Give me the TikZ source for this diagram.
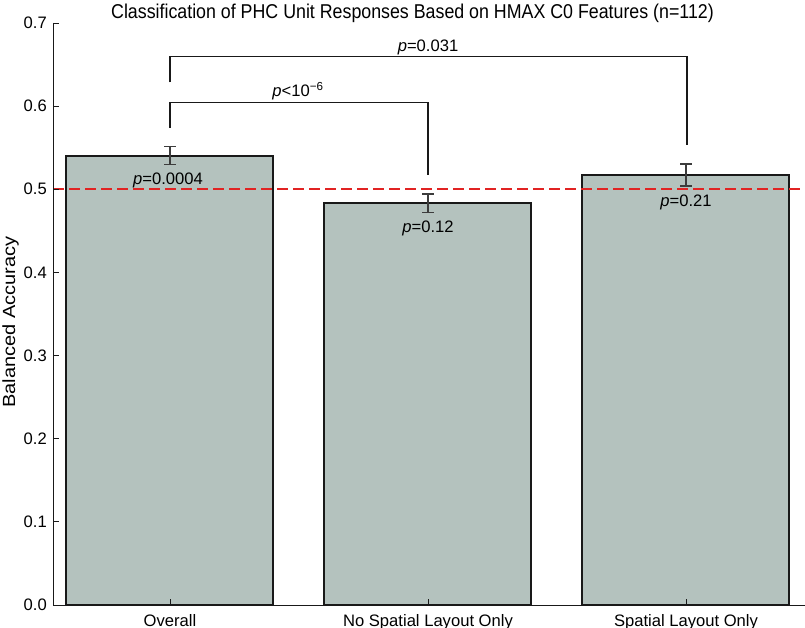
\documentclass[tikz,border=0pt]{standalone}
\usepackage{fontspec}
\setmainfont{Liberation Sans}
\usetikzlibrary{calc}
\definecolor{barfill}{RGB}{180,194,190}
\definecolor{dashred}{RGB}{225,35,35}
\definecolor{ink}{RGB}{25,25,25}
\begin{document}
\begin{tikzpicture}[x=1pt,y=-1pt,
  font=\fontsize{16.6}{20}\selectfont,
  bar/.style={draw=ink, line width=1.4pt, fill=barfill},
  axisline/.style={line width=1pt, draw=ink},
  tickline/.style={line width=0.8pt, draw=ink},
  errline/.style={line width=1.1pt, draw=ink!85},
  bracket/.style={line width=1.3pt, draw=ink},
  chanceline/.style={draw=dashred, line width=2.2pt, dash pattern=on 10.5pt off 5.5pt},
  ticklabel/.style={anchor=east, inner sep=0pt},
  catlabel/.style={anchor=base, inner sep=0pt},
  plabel/.style={anchor=base, inner sep=0pt}]
\useasboundingbox (0,0) rectangle (805,628);

% bars
\draw[bar] (66,605) rectangle (273,156) coordinate (bar1);
\draw[bar] (324,605) rectangle (531,203) coordinate (bar2);
\draw[bar] (582,605) rectangle (789,175) coordinate (bar3);

% chance line at 0.5 (red dashes)
\coordinate (chL) at (53,189.3);
\coordinate (chR) at (805,189.3);
\draw[chanceline] (chL) -- (chR);

% axes
\coordinate (origin) at (53,605);
\coordinate (ytop) at (53,23);
\coordinate (xend) at (805,605);
\draw[axisline] (ytop) -- (origin) -- (xend);

% y ticks and labels
\foreach \v/\lab [count=\i] in {0/0.0,1/0.1,2/0.2,3/0.3,4/0.4,5/0.5,6/0.6,7/0.7}{
  \coordinate (yt\i) at (53,{605-\v*83.143});
  \draw[tickline] (yt\i) -- ++(6,0);
  \node[ticklabel] (yl\i) at (47,{605-\v*83.143}) {\lab};
}

% x ticks
\foreach \x [count=\i] in {170,428,686}{
  \coordinate (xt\i) at (\x,605);
  \draw[tickline] (xt\i) -- ++(0,-6);
}

% category labels
\node[catlabel] (cat1) at (170,626) {Overall};
\node[catlabel] (cat2) at (428,626) {No Spatial Layout Only};
\node[catlabel] (cat3) at (686,626) {Spatial Layout Only};

% error bars
\foreach \x/\lo/\hi [count=\i] in {170/164.3/146.7, 428/212.3/194, 686/186/164}{
  \coordinate (elo\i) at (\x,\lo);
  \coordinate (ehi\i) at (\x,\hi);
  \draw[errline] (elo\i) -- (ehi\i);
  \draw[errline] ($(elo\i)+(-6,0)$) -- ($(elo\i)+(6,0)$);
  \draw[errline] ($(ehi\i)+(-6,0)$) -- ($(ehi\i)+(6,0)$);
}

% p-values below error bars
\node[plabel] (p1) at (168,184.8) {\textit{p}=0.0004};
\node[plabel] (p2) at (428,232.8) {\textit{p}=0.12};
\node[plabel] (p3) at (686,206.5) {\textit{p}=0.21};

% comparison brackets
\coordinate (b1a) at (170,127.7);
\coordinate (b1l) at (170,102.3);
\coordinate (b1r) at (428,102.3);
\coordinate (b1b) at (428,175);
\draw[bracket] (b1a) -- (b1l) -- (b1r) -- (b1b);
\node[plabel] (pb1) at (298,96.7) {\textit{p}<10\textsuperscript{−6}};

\coordinate (b2a) at (170,82.3);
\coordinate (b2l) at (170,56.7);
\coordinate (b2r) at (687,56.7);
\coordinate (b2b) at (687,145);
\draw[bracket] (b2a) -- (b2l) -- (b2r) -- (b2b);
\node[plabel] (pb2) at (428,51.2) {\textit{p}=0.031};

% title and axis label
\node[anchor=base, inner sep=0pt] (title) at (412.5,18.3) {\fontsize{20}{24}\selectfont\scalebox{0.89}[1]{Classification of PHC Unit Responses Based on HMAX C0 Features (n=112)}};
\node[anchor=base, inner sep=0pt, rotate=90] (ylab) at (15,322) {\fontsize{20}{24}\selectfont\scalebox{1}[0.88]{Balanced Accuracy}};
\end{tikzpicture}
\end{document}
